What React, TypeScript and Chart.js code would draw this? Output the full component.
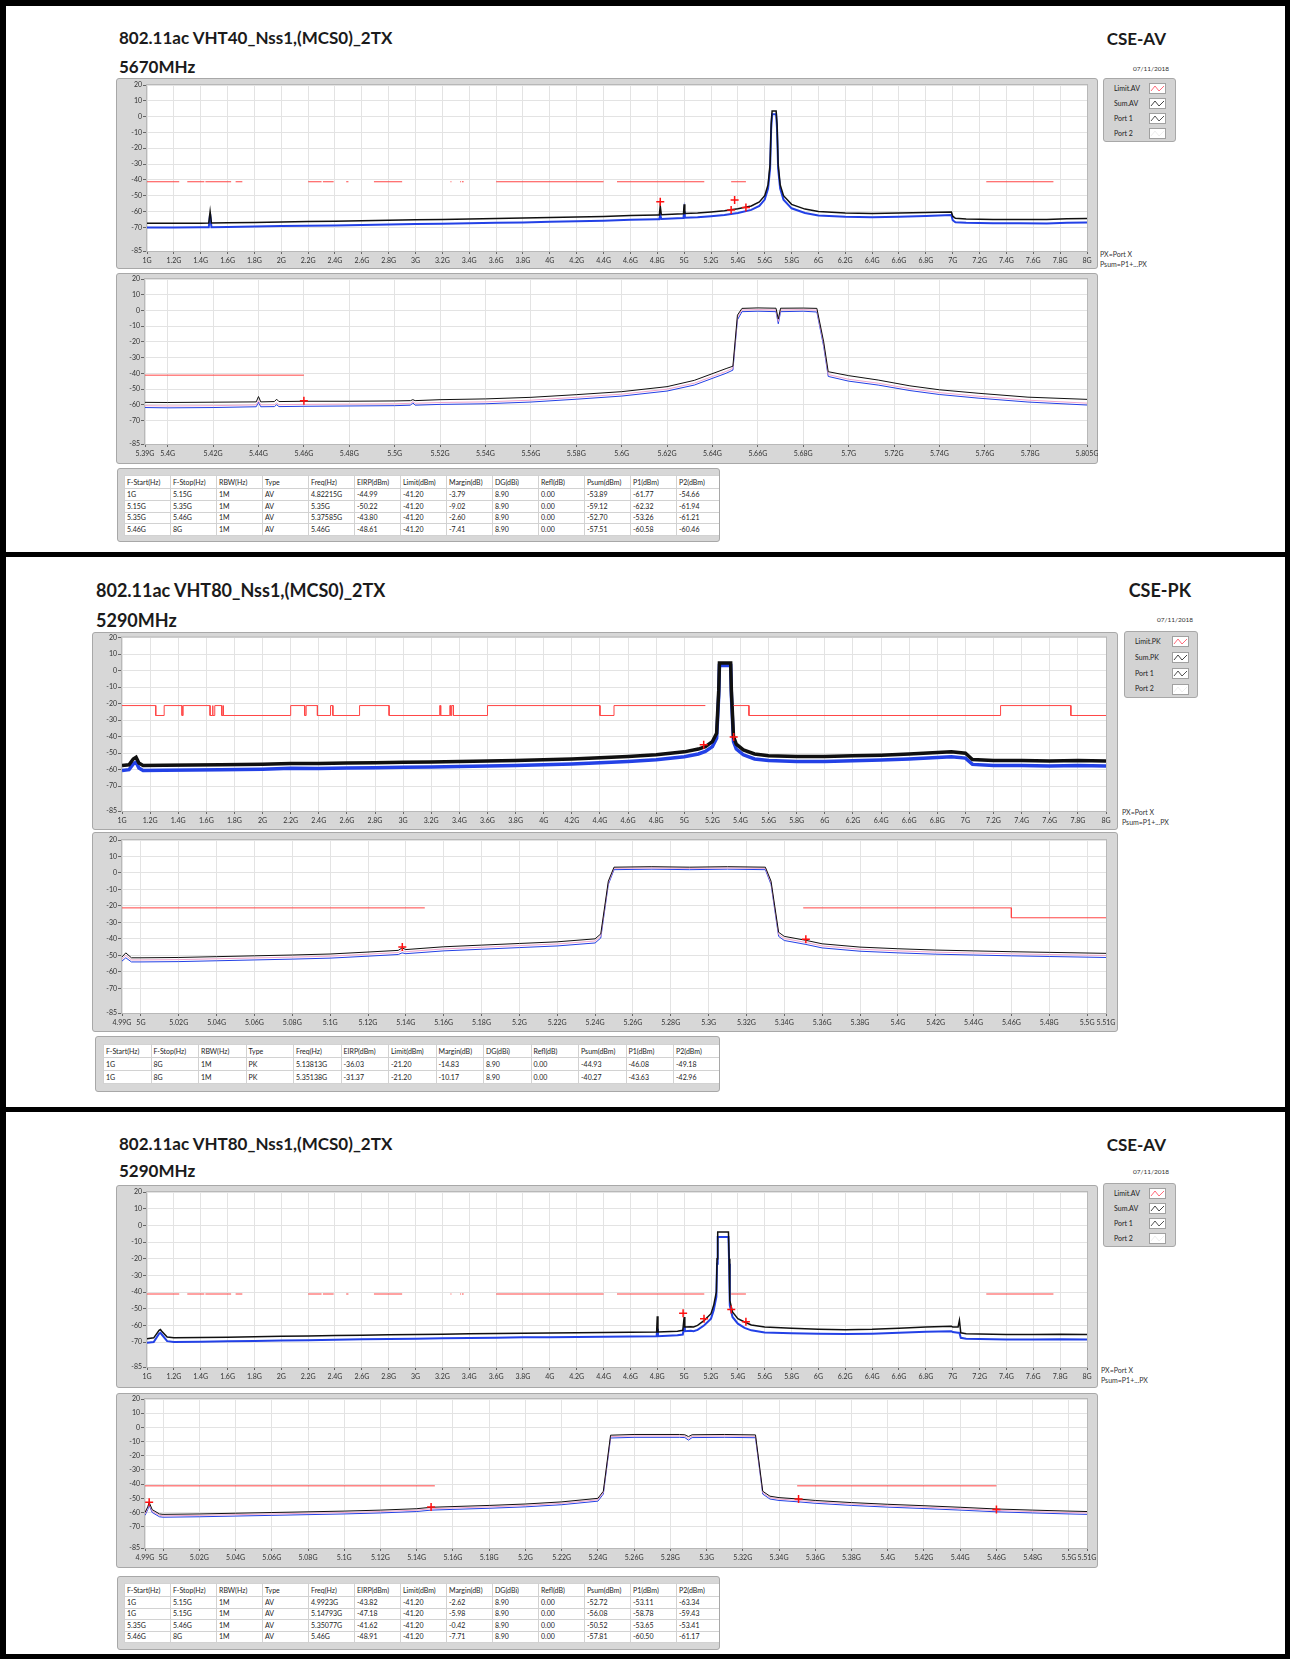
import React, { useEffect, useRef } from "react";
import { Chart, registerables } from "chart.js";
Chart.register(...registerables);

const FONT = "Lato, 'Open Sans', sans-serif";

// ---------------- axis ticks ----------------
const Y_TICKS = [20, 10, 0, -10, -20, -30, -40, -50, -60, -70, -85];
const WIDE_X_TICKS = [1, 1.2, 1.4, 1.6, 1.8, 2, 2.2, 2.4, 2.6, 2.8, 3, 3.2, 3.4, 3.6, 3.8, 4, 4.2, 4.4, 4.6, 4.8, 5, 5.2, 5.4, 5.6, 5.8, 6, 6.2, 6.4, 6.6, 6.8, 7, 7.2, 7.4, 7.6, 7.8, 8];
const S1_ZOOM_TICKS = [5.39, 5.4, 5.42, 5.44, 5.46, 5.48, 5.5, 5.52, 5.54, 5.56, 5.58, 5.6, 5.62, 5.64, 5.66, 5.68, 5.7, 5.72, 5.74, 5.76, 5.78, 5.805];
const S23_ZOOM_TICKS = [4.99, 5, 5.02, 5.04, 5.06, 5.08, 5.1, 5.12, 5.14, 5.16, 5.18, 5.2, 5.22, 5.24, 5.26, 5.28, 5.3, 5.32, 5.34, 5.36, 5.38, 5.4, 5.42, 5.44, 5.46, 5.48, 5.5, 5.51];

// ---------------- limits ----------------
const AV_LIMIT = -41.2;
const PK_LIMIT_HIGH = -21.2;
const PK_LIMIT_LOW = -27.2;
const RESTRICTED_BANDS = [
  [1.0, 1.24], [1.3, 1.427], [1.435, 1.6265], [1.645, 1.6465], [1.66, 1.71], [1.7188, 1.7222],
  [2.2, 2.3], [2.31, 2.39], [2.4835, 2.5], [2.69, 2.9], [3.26, 3.267], [3.332, 3.339], [3.3458, 3.358],
  [3.6, 4.4], [4.5, 5.15], [5.35, 5.46], [7.25, 7.75],
];
const PK_GAP = [5.15, 5.35];

// ---------------- section 1 : VHT40 5670MHz AV ----------------
const S1T_X = [1.0, 1.2, 1.4, 1.46, 1.47, 1.48, 1.6, 1.8, 2.0, 2.2, 2.4, 2.6, 2.8, 3.0, 3.2, 3.4, 3.6, 3.8, 4.0, 4.2, 4.4, 4.6, 4.8, 4.815, 4.822, 4.83, 4.95, 4.995, 5.0, 5.005, 5.1, 5.2, 5.3, 5.4, 5.5, 5.56, 5.6, 5.625, 5.64, 5.648, 5.655, 5.685, 5.692, 5.70, 5.715, 5.74, 5.8, 5.9, 6.0, 6.2, 6.4, 6.6, 6.8, 6.99, 7.0, 7.02, 7.1, 7.3, 7.5, 7.7, 7.85, 8.0];
const S1T_SUM = [-67.5, -67.5, -67.4, -67.3, -60, -67.3, -67.2, -67, -66.6, -66.4, -66.2, -65.9, -65.5, -65.2, -65, -64.7, -64.4, -64.2, -63.8, -63.5, -63.1, -62.6, -62.2, -62.2, -56.5, -62, -61.6, -61.5, -55.5, -61.3, -61, -60.3, -59.5, -58.3, -56.5, -54, -50, -43, -30, -5, 3.5, 3.5, -5, -30, -43, -50, -55.5, -58.5, -60, -61, -61.3, -61, -60.6, -60.3, -63, -64.3, -64.7, -65, -65, -65, -64.6, -64.5];
const S1T_P1 = [-70.2, -70.1, -70, -70, -61.5, -70, -69.8, -69.5, -69.2, -69, -68.8, -68.5, -68.2, -68, -67.7, -67.4, -67.2, -66.9, -66.5, -66.2, -65.8, -65.3, -64.9, -64.9, -62, -64.7, -64.3, -64.2, -60, -64, -63.7, -63, -62.3, -61, -59, -56.5, -52.5, -45.5, -33, -8, 1.5, 1.5, -8, -33, -45.5, -52.5, -58, -61, -62.5, -63.3, -63.6, -63.3, -62.8, -62.3, -65.5, -66.8, -67.2, -67.5, -67.5, -67.6, -67.2, -67];
const S1B_X = [5.39, 5.40, 5.42, 5.439, 5.44, 5.441, 5.447, 5.448, 5.449, 5.46, 5.48, 5.50, 5.507, 5.508, 5.509, 5.52, 5.54, 5.56, 5.58, 5.60, 5.62, 5.632, 5.646, 5.649, 5.651, 5.653, 5.66, 5.668, 5.669, 5.670, 5.68, 5.686, 5.689, 5.691, 5.70, 5.713, 5.727, 5.74, 5.757, 5.779, 5.805];
const S1B_SUM = [-58.5, -58.6, -58.4, -58.2, -54.8, -58.2, -58, -56.5, -58, -57.8, -57.8, -57.6, -57.4, -56.8, -57.4, -56.8, -56.3, -55.3, -53.6, -51.7, -48.5, -44.5, -37, -35.5, -3, 1.3, 1.6, 1.4, -5.5, 1.4, 1.5, 1.3, -20, -39, -41.5, -44.3, -48, -50.5, -52.7, -55.2, -56.6];
const S1B_P1 = [-61.8, -62, -61.8, -61.3, -58.5, -61.3, -61.2, -60, -61.2, -61, -60.8, -60.6, -60.3, -58.8, -60.3, -59.8, -59.4, -58.3, -56.5, -54.5, -51.3, -47.5, -40, -38, -6, -0.8, -0.5, -0.8, -8.5, -0.8, -0.5, -1, -23, -42, -45, -47.5, -51, -53.5, -55.8, -58.3, -60.2];
const S1B_P2 = [-60.6, -60.8, -60.6, -60.1, -57.5, -60.1, -60, -58.8, -60, -59.8, -59.6, -59.4, -59.1, -58, -59.1, -58.6, -58.2, -57.1, -55.3, -53.3, -50.1, -46.3, -38.8, -36.8, -4.5, 0.3, 0.5, 0.3, -7, 0.3, 0.5, 0.2, -21.5, -40.8, -43.8, -46.3, -49.8, -52.3, -54.6, -57.1, -59];
const S1_MARK_X = [4.82215, 5.35, 5.37585, 5.46];
const S1_MARK_Y = [-53.89, -59.12, -52.70, -57.51];
const S1_ROWS = [
  ["1G", "5.15G", "1M", "AV", "4.82215G", "-44.99", "-41.20", "-3.79", "8.90", "0.00", "-53.89", "-61.77", "-54.66"],
  ["5.15G", "5.35G", "1M", "AV", "5.35G", "-50.22", "-41.20", "-9.02", "8.90", "0.00", "-59.12", "-62.32", "-61.94"],
  ["5.35G", "5.46G", "1M", "AV", "5.37585G", "-43.80", "-41.20", "-2.60", "8.90", "0.00", "-52.70", "-53.26", "-61.21"],
  ["5.46G", "8G", "1M", "AV", "5.46G", "-48.61", "-41.20", "-7.41", "8.90", "0.00", "-57.51", "-60.58", "-60.46"],
];

// ---------------- section 2 : VHT80 5290MHz PK ----------------
const S2T_X = [1.0, 1.05, 1.08, 1.1, 1.12, 1.15, 1.3, 1.5, 1.7, 2.0, 2.2, 2.4, 2.6, 2.8, 3.0, 3.2, 3.4, 3.6, 3.8, 4.0, 4.2, 4.4, 4.6, 4.8, 5.0, 5.1, 5.15, 5.2, 5.23, 5.245, 5.25, 5.33, 5.335, 5.35, 5.37, 5.42, 5.5, 5.6, 5.8, 6.0, 6.2, 6.4, 6.6, 6.8, 6.9, 7.0, 7.05, 7.2, 7.4, 7.6, 7.8, 8.0];
const S2T_SUM = [-57.5, -57, -53.5, -52.5, -56, -57.5, -57.3, -57.2, -57, -56.7, -56.2, -56.3, -56, -55.8, -55.5, -55.3, -55, -54.7, -54.4, -54, -53.5, -52.8, -52, -51, -49.2, -47.5, -46, -43, -38, -12, 4.5, 4.5, -12, -40, -44.5, -48, -50.5, -51.5, -52, -52, -51.6, -51.2, -50.5, -49.6, -49.2, -50, -53.8, -54.5, -54.5, -54.8, -54.5, -54.8];
const S2T_P1 = [-60.5, -60, -56.5, -55.5, -59, -60.5, -60.3, -60.2, -60, -59.7, -59.2, -59.3, -59, -58.8, -58.5, -58.3, -58, -57.7, -57.4, -57, -56.5, -55.8, -55, -54, -52.2, -50.5, -49, -46, -41, -15, 3, 3, -15, -43, -47.5, -51, -53.5, -54.5, -55, -55, -54.6, -54.2, -53.5, -52.6, -52.2, -53, -56.8, -57.5, -57.5, -57.8, -57.5, -57.8];
const S2B_X = [4.99, 4.992, 4.995, 5.0, 5.02, 5.04, 5.06, 5.08, 5.1, 5.12, 5.136, 5.138, 5.14, 5.16, 5.18, 5.2, 5.22, 5.24, 5.243, 5.247, 5.25, 5.27, 5.29, 5.31, 5.33, 5.333, 5.337, 5.34, 5.351, 5.36, 5.38, 5.4, 5.42, 5.44, 5.46, 5.48, 5.5, 5.51];
const S2B_SUM = [-51, -48.5, -51.5, -51.5, -51.3, -50.8, -50.3, -49.8, -49.2, -48, -47, -45.5, -46.5, -44.8, -43.8, -42.8, -41.8, -40, -37, -5, 3.5, 3.8, 3.5, 3.8, 3.5, -5, -36, -38.5, -40.8, -43, -45, -46, -46.8, -47.3, -47.8, -48.2, -48.6, -48.8];
const S2B_P1 = [-53.5, -51.5, -54, -54, -53.8, -53.3, -52.8, -52.3, -51.7, -50.5, -49.5, -48.5, -49, -47.3, -46.3, -45.3, -44.3, -42.5, -39.5, -7, 2, 2.3, 2, 2.3, 2, -7, -38.5, -41, -43.3, -45.5, -47.5, -48.5, -49.3, -49.8, -50.3, -50.7, -51.1, -51.3];
const S2B_P2 = [-52.3, -50, -52.8, -52.8, -52.6, -52.1, -51.6, -51.1, -50.5, -49.3, -48.3, -47, -47.8, -46.1, -45.1, -44.1, -43.1, -41.3, -38.3, -6, 2.8, 3, 2.8, 3, 2.8, -6, -37.3, -39.8, -42.1, -44.3, -46.3, -47.3, -48.1, -48.6, -49.1, -49.5, -49.9, -50.1];
const S2_MARK_X = [5.13813, 5.35138];
const S2_MARK_Y = [-44.93, -40.27];
const S2_ROWS = [
  ["1G", "8G", "1M", "PK", "5.13813G", "-36.03", "-21.20", "-14.83", "8.90", "0.00", "-44.93", "-46.08", "-49.18"],
  ["1G", "8G", "1M", "PK", "5.35138G", "-31.37", "-21.20", "-10.17", "8.90", "0.00", "-40.27", "-43.63", "-42.96"],
];

// ---------------- section 3 : VHT80 5290MHz AV ----------------
const S3T_X = [1.0, 1.05, 1.09, 1.1, 1.11, 1.15, 1.2, 1.4, 1.6, 1.8, 2.0, 2.2, 2.4, 2.6, 2.8, 3.0, 3.2, 3.4, 3.6, 3.8, 4.0, 4.2, 4.4, 4.6, 4.795, 4.8, 4.805, 4.95, 4.99, 5.0, 5.005, 5.05, 5.07, 5.1, 5.15, 5.2, 5.22, 5.24, 5.245, 5.25, 5.33, 5.335, 5.34, 5.36, 5.4, 5.45, 5.5, 5.6, 5.8, 6.0, 6.2, 6.4, 6.6, 6.8, 6.99, 7.0, 7.04, 7.05, 7.06, 7.1, 7.2, 7.4, 7.6, 7.8, 8.0];
const S3T_SUM = [-68, -67.5, -63, -62.5, -63.5, -67, -67.5, -67.3, -67.1, -66.9, -66.6, -66.4, -66.1, -65.9, -65.7, -65.5, -65.3, -65.1, -64.9, -64.7, -64.6, -64.5, -64.3, -64.2, -64, -54.5, -64, -63.5, -63, -55, -61, -60.8, -61, -60, -57, -53, -48, -40, -20, -4, -4, -20, -45, -52, -56, -58, -59.8, -61, -61.8, -62.3, -62.6, -62.4, -61.8, -61, -60.6, -61, -61, -57, -64.5, -65, -65.2, -65.5, -65.5, -65.3, -65.5];
const S3T_P1 = [-70.5, -70, -65, -64.5, -65.5, -69.5, -70, -69.8, -69.6, -69.4, -69.1, -68.9, -68.6, -68.4, -68.2, -68, -67.8, -67.6, -67.4, -67.2, -67.1, -67, -66.8, -66.7, -66.5, -62, -66.5, -66, -65.5, -61, -63.5, -63.3, -63.5, -62.7, -60, -56, -51, -43, -23, -7, -7, -23, -48, -55, -59, -61.5, -63, -64.3, -64.8, -65, -65.2, -65, -64.5, -63.8, -63.5, -64, -64.5, -64.5, -67.5, -68, -68.2, -68.5, -68.5, -68.3, -68.5];
const S3B_X = [4.99, 4.9915, 4.9923, 4.994, 4.998, 5.0, 5.02, 5.04, 5.06, 5.08, 5.1, 5.12, 5.14, 5.148, 5.16, 5.18, 5.2, 5.22, 5.24, 5.243, 5.247, 5.26, 5.285, 5.288, 5.29, 5.292, 5.31, 5.327, 5.331, 5.335, 5.34, 5.351, 5.36, 5.38, 5.4, 5.42, 5.44, 5.46, 5.48, 5.5, 5.51];
const S3B_SUM = [-60, -56, -52.8, -58, -61, -61.3, -61, -60.5, -60, -59.5, -59, -58.3, -57.3, -56.3, -55.8, -55, -54, -52.5, -50, -45, -5.5, -5, -5, -5.2, -6.5, -5.2, -5, -5.3, -45, -48.5, -49.5, -50.5, -51.5, -53, -54.2, -55.2, -56.3, -57.5, -58.3, -59, -59.3];
const S3B_P1 = [-62, -58, -55, -60, -63, -63.3, -63, -62.5, -62, -61.5, -61, -60.3, -59.3, -58.3, -57.8, -57, -56, -54.5, -52, -47, -7.5, -7, -7, -7.2, -9, -7.2, -7, -7.3, -47, -50.5, -51.5, -52.5, -53.5, -55, -56.2, -57.2, -58.3, -59.5, -60.3, -61, -61.3];
const S3B_P2 = [-61, -57, -54, -59, -62, -62.3, -62, -61.5, -61, -60.5, -60, -59.3, -58.3, -57.3, -56.8, -56, -55, -53.5, -51, -46, -6.5, -6, -6, -6.2, -7.8, -6.2, -6, -6.3, -46, -49.5, -50.5, -51.5, -52.5, -54, -55.2, -56.2, -57.3, -58.5, -59.3, -60, -60.3];
const S3_MARK_X = [4.9923, 5.14793, 5.35077, 5.46];
const S3_MARK_Y = [-52.72, -56.08, -50.52, -57.81];
const S3_ROWS = [
  ["1G", "5.15G", "1M", "AV", "4.9923G", "-43.82", "-41.20", "-2.62", "8.90", "0.00", "-52.72", "-53.11", "-63.34"],
  ["1G", "5.15G", "1M", "AV", "5.14793G", "-47.18", "-41.20", "-5.98", "8.90", "0.00", "-56.08", "-58.78", "-59.43"],
  ["5.35G", "5.46G", "1M", "AV", "5.35077G", "-41.62", "-41.20", "-0.42", "8.90", "0.00", "-50.52", "-53.65", "-53.41"],
  ["5.46G", "8G", "1M", "AV", "5.46G", "-48.91", "-41.20", "-7.71", "8.90", "0.00", "-57.81", "-60.50", "-61.17"],
];

const TABLE_HEAD = ["F-Start(Hz)", "F-Stop(Hz)", "RBW(Hz)", "Type", "Freq(Hz)", "EIRP(dBm)", "Limit(dBm)", "Margin(dB)", "DG(dBi)", "Refl(dB)", "Psum(dBm)", "P1(dBm)", "P2(dBm)"];

// ---------------- helpers ----------------
type Pt = { x: number; y: number | null };
const pts = (xs: number[], ys: (number | null)[]): Pt[] => xs.map((x, i) => ({ x, y: ys[i] }));

function avLimit(): Pt[] {
  const out: Pt[] = [];
  RESTRICTED_BANDS.forEach(([a, b]) => {
    out.push({ x: a, y: AV_LIMIT }, { x: b, y: AV_LIMIT }, { x: b, y: null });
  });
  return out;
}
function pkLimit(): Pt[] {
  const out: Pt[] = [];
  let cur = 1.0;
  RESTRICTED_BANDS.forEach(([a, b]) => {
    if (a > cur) {
      if (cur === PK_GAP[0] && a === PK_GAP[1]) out.push({ x: cur, y: null });
      else out.push({ x: cur, y: PK_LIMIT_LOW }, { x: a, y: PK_LIMIT_LOW });
    }
    out.push({ x: a, y: PK_LIMIT_HIGH }, { x: b, y: PK_LIMIT_HIGH });
    cur = b;
  });
  out.push({ x: cur, y: PK_LIMIT_LOW }, { x: 8, y: PK_LIMIT_LOW });
  return out;
}
const fmtG = (v: number) => `${Math.round(v * 1000) / 1000}G`;

type Rect = { x: number; y: number; w: number; h: number };
type Plot = { l: number; t: number; r: number; b: number };
type Spec = {
  frame: Rect; plot: Plot; xMin: number; xMax: number; xTicks: number[];
  limit: Pt[]; sum: Pt[]; p1: Pt[]; p2?: Pt[]; markers: Pt[]; sumW: number; p1W: number;
};

const plotBg = {
  id: "plotBg",
  beforeDraw(chart: any) {
    const { ctx, chartArea: a } = chart;
    ctx.save();
    ctx.fillStyle = "#ffffff";
    ctx.fillRect(a.left, a.top, a.right - a.left, a.bottom - a.top);
    ctx.restore();
  },
  afterDraw(chart: any) {
    const { ctx, chartArea: a } = chart;
    ctx.save();
    ctx.strokeStyle = "#b8b8b8";
    ctx.lineWidth = 1;
    ctx.strokeRect(a.left - 0.5, a.top - 0.5, a.right - a.left + 1, a.bottom - a.top + 1);
    ctx.restore();
  },
};

function ChartBox({ spec }: { spec: Spec }) {
  const ref = useRef<HTMLCanvasElement>(null);
  const { frame, plot } = spec;
  useEffect(() => {
    const datasets: any[] = [
      { data: spec.markers, showLine: false, pointStyle: "cross", pointRadius: 4, pointBorderColor: "#ff1010", pointBorderWidth: 1.5, borderColor: "#ff1010", order: 0 },
      { data: spec.limit, borderColor: "#ff4545", borderWidth: 1, pointRadius: 0, spanGaps: false, order: 1 },
      { data: spec.sum, borderColor: "#101010", borderWidth: spec.sumW, pointRadius: 0, order: 2 },
    ];
    if (spec.p2) datasets.push({ data: spec.p2, borderColor: "#f0a4cc", borderWidth: 1, pointRadius: 0, order: 3 });
    datasets.push({ data: spec.p1, borderColor: "#2341e6", borderWidth: spec.p1W, pointRadius: 0, order: 4 });
    const chart = new Chart(ref.current as HTMLCanvasElement, {
      type: "line",
      data: { datasets },
      plugins: [plotBg],
      options: {
        animation: false,
        responsive: false,
        devicePixelRatio: 1,
        events: [],
        layout: { padding: { left: 0, top: plot.t - frame.y, right: frame.x + frame.w - plot.r, bottom: 0 } },
        plugins: { legend: { display: false }, tooltip: { enabled: false } },
        elements: { line: { tension: 0 } },
        scales: {
          x: {
            type: "linear",
            min: spec.xMin,
            max: spec.xMax,
            afterBuildTicks: (s: any) => { s.ticks = spec.xTicks.map((v) => ({ value: v })); },
            afterFit: (s: any) => { s.height = frame.y + frame.h - plot.b; s.paddingLeft = 0; s.paddingRight = 0; s.paddingTop = 0; s.paddingBottom = 0; },
            ticks: { autoSkip: false, maxRotation: 0, minRotation: 0, padding: 3, color: "#333", font: { family: FONT, size: 7 }, callback: (_v: any, i: number) => fmtG(spec.xTicks[i]) },
            grid: { color: "#e3e3e3", lineWidth: 1, tickLength: 3, tickColor: "#666", drawTicks: true },
            border: { display: false },
          },
          y: {
            type: "linear",
            min: -85,
            max: 20,
            afterBuildTicks: (s: any) => { s.ticks = Y_TICKS.map((v) => ({ value: v })); },
            afterFit: (s: any) => { s.width = plot.l - frame.x; s.paddingLeft = 0; s.paddingRight = 0; s.paddingTop = 0; s.paddingBottom = 0; },
            ticks: { padding: 1, color: "#333", font: { family: FONT, size: 7 }, callback: (v: any) => `${v}` },
            grid: { color: "#e3e3e3", lineWidth: 1, tickLength: 4, tickColor: "#666", drawTicks: true },
            border: { display: false },
          },
        },
      } as any,
    });
    return () => chart.destroy();
  }, []);
  return (
    <div style={{ position: "absolute", left: frame.x, top: frame.y, width: frame.w, height: frame.h, background: "#d7d7d7", border: "1px solid #a8a8a8", boxSizing: "border-box", borderRadius: 3 }}>
      <canvas ref={ref} width={frame.w} height={frame.h} style={{ position: "absolute", left: -1, top: -1, width: frame.w, height: frame.h }} />
    </div>
  );
}

function Icon({ color }: { color: string }) {
  return (
    <svg width={17} height={11} style={{ display: "block" }}>
      <rect x={0.5} y={0.5} width={16} height={10} fill="#fff" stroke="#a0a0a0" />
      <polyline points="2,8 6,3 10,8 15,3" fill="none" stroke={color} strokeWidth={1} />
    </svg>
  );
}

function Legend({ rect, labels, textX, iconX }: { rect: Rect; labels: string[]; textX: number; iconX: number }) {
  const colors = ["#ff6a7a", "#444", "#555", "#eeeeee"];
  const rowH = (rect.h - 4) / 4;
  return (
    <div style={{ position: "absolute", left: rect.x, top: rect.y, width: rect.w, height: rect.h, background: "#d3d3d3", border: "1px solid #a8a8a8", boxSizing: "border-box", borderRadius: 3 }}>
      {labels.map((l, i) => (
        <div key={l} style={{ position: "absolute", left: 0, top: 2 + i * rowH, width: rect.w - 2, height: rowH }}>
          <div style={{ position: "absolute", left: textX, top: 0, lineHeight: `${rowH}px`, fontFamily: FONT, fontSize: 7, color: "#222" }}>{l}</div>
          <div style={{ position: "absolute", left: iconX, top: (rowH - 11) / 2 }}>
            <Icon color={colors[i]} />
          </div>
        </div>
      ))}
    </div>
  );
}

function DataTable({ rect, colW, headH, rowH, rows, pad }: { rect: Rect; colW: number; headH: number; rowH: number; rows: string[][]; pad: number }) {
  const cell: React.CSSProperties = { border: "1px solid #d2d2d2", padding: "0 0 0 2px", whiteSpace: "nowrap", overflow: "hidden", lineHeight: "1", width: colW, boxSizing: "border-box" };
  return (
    <div style={{ position: "absolute", left: rect.x, top: rect.y, width: rect.w, height: rect.h, background: "#d7d7d7", border: "1px solid #a8a8a8", boxSizing: "border-box", overflow: "hidden", borderRadius: 3 }}>
      <table style={{ position: "absolute", left: pad, top: pad, borderCollapse: "collapse", background: "#fff", tableLayout: "fixed", width: colW * 13, fontFamily: FONT, fontSize: 7, color: "#222" }}>
        <tbody>
          <tr style={{ height: headH }}>{TABLE_HEAD.map((h) => <td key={h} style={cell}>{h}</td>)}</tr>
          {rows.map((r, ri) => (
            <tr key={ri} style={{ height: rowH }}>{r.map((c, ci) => <td key={ci} style={cell}>{c}</td>)}</tr>
          ))}
        </tbody>
      </table>
    </div>
  );
}

type Layout = {
  title: string; sub: string; mode: string; date: string; fs: number;
  titleX: number; titleY: number; subY: number; modeRight: number; modeY: number; dateRight: number; dateY: number;
  legend: Rect; legendText: number; legendIcon: number; legendLabels: string[];
  pxX: number; pxY: number;
  table: Rect; colW: number; headH: number; rowH: number; pad: number; rows: string[][];
  top: Spec; bot: Spec;
};

function Section({ L }: { L: Layout }) {
  const big: React.CSSProperties = { position: "absolute", fontFamily: FONT, fontWeight: 700, fontSize: L.fs, lineHeight: `${L.fs}px`, color: "#1b1b1b", whiteSpace: "nowrap" };
  const small: React.CSSProperties = { position: "absolute", fontFamily: FONT, fontSize: 7, lineHeight: "9px", color: "#333", whiteSpace: "nowrap" };
  return (
    <>
      <div style={{ ...big, left: L.titleX, top: L.titleY }}>{L.title}</div>
      <div style={{ ...big, left: L.titleX, top: L.subY }}>{L.sub}</div>
      <div style={{ ...big, right: 1290 - L.modeRight, top: L.modeY }}>{L.mode}</div>
      <div style={{ ...small, fontSize: 6.5, right: 1290 - L.dateRight, top: L.dateY }}>{L.date}</div>
      <ChartBox spec={L.top} />
      <ChartBox spec={L.bot} />
      <Legend rect={L.legend} labels={L.legendLabels} textX={L.legendText} iconX={L.legendIcon} />
      <div style={{ ...small, left: L.pxX, top: L.pxY }}>PX=Port X</div>
      <div style={{ ...small, left: L.pxX, top: L.pxY + 10 }}>Psum=P1+...PX</div>
      <DataTable rect={L.table} colW={L.colW} headH={L.headH} rowH={L.rowH} rows={L.rows} pad={L.pad} />
    </>
  );
}

const AV_LEG = ["Limit.AV", "Sum.AV", "Port 1", "Port 2"];
const PK_LEG = ["Limit.PK", "Sum.PK", "Port 1", "Port 2"];

const SECTIONS: Layout[] = [
  {
    title: "802.11ac VHT40_Nss1,(MCS0)_2TX", sub: "5670MHz", mode: "CSE-AV", date: "07/11/2018", fs: 17,
    titleX: 119, titleY: 29, subY: 58, modeRight: 1166, modeY: 30, dateRight: 1169, dateY: 64,
    legend: { x: 1103, y: 78, w: 73, h: 64 }, legendText: 10, legendIcon: 45, legendLabels: AV_LEG,
    pxX: 1100, pxY: 250,
    table: { x: 117, y: 468, w: 603, h: 74 }, colW: 46, headH: 13, rowH: 11.8, pad: 6, rows: S1_ROWS,
    top: { frame: { x: 116, y: 78, w: 982, h: 191 }, plot: { l: 147, t: 85, r: 1087, b: 251 }, xMin: 1, xMax: 8, xTicks: WIDE_X_TICKS,
      limit: avLimit(), sum: pts(S1T_X, S1T_SUM), p1: pts(S1T_X, S1T_P1), markers: pts(S1_MARK_X, S1_MARK_Y), sumW: 1.5, p1W: 2 },
    bot: { frame: { x: 116, y: 273, w: 982, h: 191 }, plot: { l: 145, t: 279, r: 1087, b: 444 }, xMin: 5.39, xMax: 5.805, xTicks: S1_ZOOM_TICKS,
      limit: avLimit(), sum: pts(S1B_X, S1B_SUM), p1: pts(S1B_X, S1B_P1), p2: pts(S1B_X, S1B_P2), markers: pts(S1_MARK_X, S1_MARK_Y), sumW: 1, p1W: 1 },
  },
  {
    title: "802.11ac VHT80_Nss1,(MCS0)_2TX", sub: "5290MHz", mode: "CSE-PK", date: "07/11/2018", fs: 18,
    titleX: 96, titleY: 581, subY: 611, modeRight: 1191, modeY: 581, dateRight: 1193, dateY: 615,
    legend: { x: 1124, y: 631, w: 74, h: 67 }, legendText: 10, legendIcon: 47, legendLabels: PK_LEG,
    pxX: 1122, pxY: 808,
    table: { x: 95, y: 1036, w: 625, h: 56 }, colW: 47.5, headH: 13, rowH: 13, pad: 7, rows: S2_ROWS,
    top: { frame: { x: 92, y: 632, w: 1026, h: 198 }, plot: { l: 122, t: 637, r: 1106, b: 811 }, xMin: 1, xMax: 8, xTicks: WIDE_X_TICKS,
      limit: pkLimit(), sum: pts(S2T_X, S2T_SUM), p1: pts(S2T_X, S2T_P1), markers: pts(S2_MARK_X, S2_MARK_Y), sumW: 3.5, p1W: 3.5 },
    bot: { frame: { x: 92, y: 832, w: 1026, h: 200 }, plot: { l: 122, t: 840, r: 1106, b: 1013 }, xMin: 4.99, xMax: 5.51, xTicks: S23_ZOOM_TICKS,
      limit: pkLimit(), sum: pts(S2B_X, S2B_SUM), p1: pts(S2B_X, S2B_P1), p2: pts(S2B_X, S2B_P2), markers: pts(S2_MARK_X, S2_MARK_Y), sumW: 1, p1W: 1 },
  },
  {
    title: "802.11ac VHT80_Nss1,(MCS0)_2TX", sub: "5290MHz", mode: "CSE-AV", date: "07/11/2018", fs: 17,
    titleX: 119, titleY: 1135, subY: 1162, modeRight: 1166, modeY: 1136, dateRight: 1169, dateY: 1167,
    legend: { x: 1103, y: 1183, w: 73, h: 64 }, legendText: 10, legendIcon: 45, legendLabels: AV_LEG,
    pxX: 1101, pxY: 1366,
    table: { x: 117, y: 1576, w: 603, h: 74 }, colW: 46, headH: 13, rowH: 11.5, pad: 6, rows: S3_ROWS,
    top: { frame: { x: 116, y: 1185, w: 982, h: 203 }, plot: { l: 147, t: 1192, r: 1087, b: 1367 }, xMin: 1, xMax: 8, xTicks: WIDE_X_TICKS,
      limit: avLimit(), sum: pts(S3T_X, S3T_SUM), p1: pts(S3T_X, S3T_P1), markers: pts(S3_MARK_X, S3_MARK_Y), sumW: 1.5, p1W: 2 },
    bot: { frame: { x: 116, y: 1393, w: 982, h: 175 }, plot: { l: 145, t: 1399, r: 1087, b: 1548 }, xMin: 4.99, xMax: 5.51, xTicks: S23_ZOOM_TICKS,
      limit: avLimit(), sum: pts(S3B_X, S3B_SUM), p1: pts(S3B_X, S3B_P1), p2: pts(S3B_X, S3B_P2), markers: pts(S3_MARK_X, S3_MARK_Y), sumW: 1, p1W: 1 },
  },
];

export default function App() {
  const bar = (x: number, y: number, w: number, h: number) => (
    <div style={{ position: "absolute", left: x, top: y, width: w, height: h, background: "#000" }} />
  );
  return (
    <div style={{ position: "absolute", left: 0, top: 0, width: 1290, height: 1659, background: "#fff", overflow: "hidden" }}>
      {SECTIONS.map((L, i) => <Section key={i} L={L} />)}
      {bar(0, 0, 1290, 6)}
      {bar(0, 0, 6, 1659)}
      {bar(1285, 0, 5, 1659)}
      {bar(0, 1654, 1290, 5)}
      {bar(0, 552, 1290, 5)}
      {bar(0, 1107, 1290, 5)}
    </div>
  );
}
